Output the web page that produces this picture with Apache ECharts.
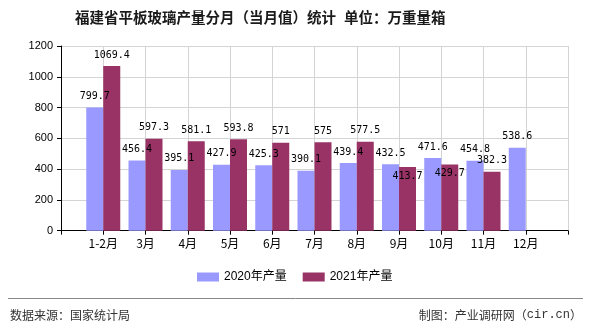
<!DOCTYPE html>
<html>
<head>
<meta charset="utf-8">
<script src="https://cdn.jsdelivr.net/npm/echarts@6/dist/echarts.min.js"></script>
<style>
html,body{margin:0;padding:0;background:#fff;}
#c{width:590px;height:330px;}
</style>
</head>
<body>
<div id="c"></div>
<script>
var categories = ['1-2月','3月','4月','5月','6月','7月','8月','9月','10月','11月','12月'];
var values2020 = [799.7,456.4,395.1,427.9,425.3,390.1,439.4,432.5,471.6,454.8,538.6];
var values2021 = [1069.4,597.3,581.1,593.8,571,575,577.5,413.7,429.7,382.3,null];
var yTicks = [0,200,400,600,800,1000,1200];
var seriesNames = ['2020年产量','2021年产量'];

// label nudges (style only): index -> vertical offset
var labelNudge2021 = {7: 20, 8: 20};

function buildData(vals, nudge) {
  var out = [null];
  vals.forEach(function (v, i) {
    if (v === null) { out.push(null); return; }
    if (nudge && nudge[i] !== undefined) {
      out.push({ value: v, label: { offset: [0, nudge[i]] } });
    } else {
      out.push(v);
    }
  });
  out.push(null);
  return out;
}
var axisCats = [''].concat(categories).concat(['']);

var cjk = '"Noto Sans CJK SC", sans-serif';
var chart = echarts.init(document.getElementById('c'), null, {renderer: 'canvas'});
var labelCommon = {
  show: true,
  position: 'top',
  distance: 6,
  color: '#000',
  fontSize: 10,
  fontFamily: '"DejaVu Sans Mono", "Liberation Mono", monospace'
};
chart.setOption({
  animation: false,
  backgroundColor: '#fff',
  title: {
    text: '福建省平板玻璃产量分月{p|（}当月值{p|）}统计{s| }单位{p|：}万重量箱',
    left: 75,
    top: 10,
    padding: 0,
    textStyle: {
      fontSize: 14.5, fontWeight: 'bold', color: '#1a1a1a', fontFamily: cjk,
      rich: {
        p: { width: 14.5, align: 'center', fontSize: 14.5, fontWeight: 'bold', color: '#1a1a1a', fontFamily: cjk },
        s: { width: 8, align: 'center', fontSize: 14.5, color: '#1a1a1a', fontFamily: cjk }
      }
    }
  },
  legend: {
    data: seriesNames,
    left: 197,
    top: 271,
    padding: 0,
    icon: 'rect',
    itemWidth: 22,
    itemHeight: 9,
    itemGap: 16,
    textStyle: { fontSize: 12, color: '#000', fontFamily: '"Liberation Sans", "Noto Sans CJK SC", sans-serif' }
  },
  grid: { left: 61, right: 22, top: 46, bottom: 99.3, containLabel: false },
  xAxis: {
    type: 'category',
    data: axisCats,
    boundaryGap: false,
    axisLine: { lineStyle: { color: '#000', width: 1 } },
    axisTick: { show: true, length: 4, interval: 0, lineStyle: { color: '#000' } },
    axisLabel: { interval: 0, margin: 7, color: '#000', fontSize: 12, fontFamily: cjk },
    splitLine: { show: true, interval: 0, lineStyle: { color: '#d4d4d4', width: 1 } }
  },
  yAxis: {
    type: 'value',
    min: yTicks[0],
    max: yTicks[yTicks.length - 1],
    interval: yTicks[1] - yTicks[0],
    axisLine: { show: true, lineStyle: { color: '#000', width: 1 } },
    axisTick: { show: true, length: 4, lineStyle: { color: '#000' } },
    axisLabel: { margin: 8, color: '#000', fontSize: 11, fontFamily: '"Liberation Sans", Arial, sans-serif',
      formatter: function (v) { return String(v); } },
    splitLine: { show: true, lineStyle: { color: '#d4d4d4', width: 1 } }
  },
  series: [
    {
      name: seriesNames[0],
      type: 'bar',
      data: buildData(values2020, null),
      barWidth: 17,
      barGap: '0%',
      itemStyle: { color: '#9999ff' },
      label: labelCommon
    },
    {
      name: seriesNames[1],
      type: 'bar',
      data: buildData(values2021, labelNudge2021),
      barWidth: 17,
      barGap: '0%',
      itemStyle: { color: '#993366' },
      label: labelCommon
    }
  ],
  graphic: [
    { type: 'line', shape: { x1: 8, y1: 298.5, x2: 583, y2: 298.5 }, style: { stroke: '#888', lineWidth: 1 } },
    { type: 'text', left: 10, top: 309, style: {
      text: '数据来源{p|：}国家统计局', fill: '#333', fontSize: 12, fontFamily: cjk,
      rich: { p: { width: 12, align: 'center', fontSize: 12, fill: '#333', fontFamily: cjk } } } },
    { type: 'text', right: 8, top: 309, style: {
      text: '制图{p|：}产业调研网{p|（}{m|cir.cn}{p|）}', fill: '#333', fontSize: 12, fontFamily: cjk,
      rich: {
        p: { width: 12, align: 'center', fontSize: 12, fill: '#333', fontFamily: cjk },
        m: { fontSize: 12, fill: '#333', fontFamily: '"Liberation Mono", monospace' }
      } } }
  ]
});
</script>
</body>
</html>
